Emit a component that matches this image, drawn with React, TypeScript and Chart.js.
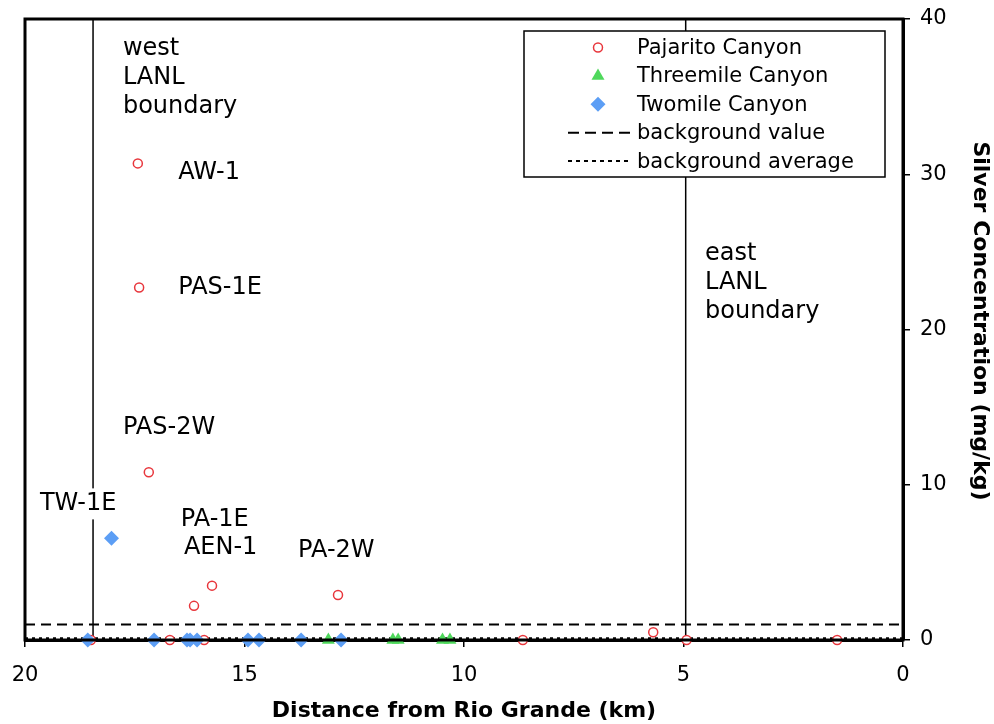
import React, { useEffect, useRef } from "react";
import { Chart, registerables } from "chart.js";

Chart.register(...registerables);

const FONT = "'DejaVu Sans', Verdana, sans-serif";

// ---- data ----
const pajaritoKm = [17.43, 17.4, 17.18, 16.15, 15.74, 12.87, 5.69, 18.5, 16.7, 15.92, 8.66, 4.93, 1.5];
const pajaritoAg = [30.7, 22.7, 10.8, 2.2, 3.5, 2.9, 0.5, 0, 0, 0, 0, 0, 0];
const threemileKm = [13.09, 11.62, 11.5, 10.49, 10.32];
const threemileAg = [0, 0, 0, 0, 0];
const twomileKm = [18.03, 18.57, 17.06, 16.31, 16.24, 16.08, 14.92, 14.67, 13.71, 12.8];
const twomileAg = [6.55, 0, 0, 0, 0, 0, 0, 0, 0, 0];
const backgroundValue = 1.0;
const backgroundAverage = 0.1;
const boundaryKm = [18.45, 4.95];
const xRange = [0, 20];
const yRange = [0, 40];
const xStep = 5;
const yStep = 10;

// labels anchored in data coordinates (left edge, text middle)
const labelText = ["AW-1", "PAS-1E", "PAS-2W", "TW-1E", "PA-1E", "AEN-1", "PA-2W"];
const labelKm = [16.51, 16.51, 17.77, 19.66, 16.45, 16.38, 13.78];
const labelAg = [30.1, 22.7, 13.7, 8.8, 7.72, 5.92, 5.72];
const boundaryLabelLines = [["west", "LANL", "boundary"], ["east", "LANL", "boundary"]];
const boundaryLabelKm = [17.77, 4.51];
const boundaryLabelAg = [38.1, 24.9];

const legendNames = ["Pajarito Canyon", "Threemile Canyon", "Twomile Canyon", "background value", "background average"];
const xTitle = "Distance from Rio Grande (km)";
const yTitle = "Silver Concentration (mg/kg)";

const RED = "#e8363c";
const GREEN = "#4fd85c";
const BLUE = "#5c9ef5";

const toXY = (xs: number[], ys: number[]) => xs.map((x, i) => ({ x, y: ys[i] }));

function drawMarker(ctx: CanvasRenderingContext2D, kind: string, x: number, y: number) {
  ctx.save();
  if (kind === "circle") {
    ctx.beginPath();
    ctx.arc(x, y, 4.5, 0, Math.PI * 2);
    ctx.fillStyle = "#fff";
    ctx.fill();
    ctx.strokeStyle = RED;
    ctx.lineWidth = 1.5;
    ctx.stroke();
  } else if (kind === "triangle") {
    const r = 7.5;
    ctx.beginPath();
    ctx.moveTo(x, y - r);
    ctx.lineTo(x + r * Math.sin(Math.PI / 3), y + r / 2);
    ctx.lineTo(x - r * Math.sin(Math.PI / 3), y + r / 2);
    ctx.closePath();
    ctx.fillStyle = GREEN;
    ctx.fill();
  } else {
    const r = 7.5;
    ctx.beginPath();
    ctx.moveTo(x, y - r);
    ctx.lineTo(x + r, y);
    ctx.lineTo(x, y + r);
    ctx.lineTo(x - r, y);
    ctx.closePath();
    ctx.fillStyle = BLUE;
    ctx.fill();
  }
  ctx.restore();
}

const overlayPlugin = {
  id: "overlay",
  afterDatasetsDraw(chart: any) {
    const { ctx, chartArea: a, scales } = chart;
    const xs = scales.x;
    const ys = scales.y;
    ctx.save();
    // frame
    ctx.strokeStyle = "#000";
    ctx.lineWidth = 3;
    ctx.strokeRect(a.left, a.top, a.right - a.left, a.bottom - a.top);

    // point labels
    ctx.font = `24px ${FONT}`;
    ctx.textBaseline = "middle";
    ctx.textAlign = "left";
    labelText.forEach((t, i) => {
      const px = xs.getPixelForValue(labelKm[i]);
      const py = ys.getPixelForValue(labelAg[i]);
      const w = ctx.measureText(t).width;
      ctx.fillStyle = "#fff";
      ctx.fillRect(px - 3, py - 15, w + 6, 31);
      ctx.fillStyle = "#000";
      ctx.fillText(t, px, py);
    });
    boundaryLabelLines.forEach((lines, i) => {
      const px = xs.getPixelForValue(boundaryLabelKm[i]);
      const py = ys.getPixelForValue(boundaryLabelAg[i]);
      ctx.fillStyle = "#000";
      lines.forEach((l, j) => ctx.fillText(l, px, py + j * 29));
    });

    // legend
    const lw = 361;
    const lh = 146;
    const lx = a.right - 379;
    const ly = a.top + 12;
    ctx.fillStyle = "#fff";
    ctx.fillRect(lx, ly, lw, lh);
    ctx.strokeStyle = "#000";
    ctx.lineWidth = 1.5;
    ctx.strokeRect(lx, ly, lw, lh);
    ctx.font = `21px ${FONT}`;
    const kinds = ["circle", "triangle", "rectRot", "dash", "dot"];
    legendNames.forEach((name, i) => {
      const ry = ly + 16.5 + i * 28.4;
      const k = kinds[i];
      if (k === "dash" || k === "dot") {
        ctx.save();
        ctx.strokeStyle = "#000";
        ctx.lineWidth = 2;
        ctx.setLineDash(k === "dash" ? [11, 6] : [4, 4]);
        ctx.beginPath();
        ctx.moveTo(lx + 44, ry);
        ctx.lineTo(lx + 108, ry);
        ctx.stroke();
        ctx.restore();
      } else {
        drawMarker(ctx, k, lx + 74, ry);
      }
      ctx.fillStyle = "#000";
      ctx.fillText(name, lx + 113, ry + 1);
    });

    // right axis title (reads top to bottom)
    ctx.save();
    ctx.font = `bold 22px ${FONT}`;
    ctx.textAlign = "center";
    ctx.textBaseline = "middle";
    ctx.fillStyle = "#000";
    ctx.translate(a.right + 77, a.top + 302);
    ctx.rotate(Math.PI / 2);
    ctx.fillText(yTitle, 0, 0);
    ctx.restore();

    ctx.restore();
  },
};

export default function App() {
  const ref = useRef<HTMLCanvasElement>(null);
  useEffect(() => {
    document.body.style.margin = "0";
    const hLine = (v: number) => [
      { x: xRange[1], y: v },
      { x: xRange[0], y: v },
    ];
    const vLine = (k: number) => [
      { x: k, y: yRange[0] },
      { x: k, y: yRange[1] },
    ];
    const zeroPad = (s: any) => {
      s.paddingLeft = 0;
      s.paddingRight = 0;
      s.paddingTop = 0;
      s.paddingBottom = 0;
    };
    const chart = new Chart(ref.current as HTMLCanvasElement, {
      type: "scatter",
      data: {
        datasets: [
          {
            label: "Twomile Canyon",
            data: toXY(twomileKm, twomileAg),
            pointStyle: "rectRot",
            pointRadius: 7.5,
            backgroundColor: BLUE,
            borderColor: BLUE,
            borderWidth: 0,
            order: 0,
            clip: false,
          } as any,
          {
            label: "Threemile Canyon",
            data: toXY(threemileKm, threemileAg),
            pointStyle: "triangle",
            pointRadius: 7.5,
            backgroundColor: GREEN,
            borderColor: GREEN,
            borderWidth: 0,
            order: 1,
            clip: false,
          },
          {
            label: "Pajarito Canyon",
            data: toXY(pajaritoKm, pajaritoAg),
            pointStyle: "circle",
            pointRadius: 4.5,
            backgroundColor: "#fff",
            borderColor: RED,
            borderWidth: 1.5,
            order: 2,
            clip: false,
          },
          {
            label: "background value",
            type: "line",
            data: hLine(backgroundValue),
            borderColor: "#000",
            borderWidth: 2,
            borderDash: [10, 6],
            pointRadius: 0,
            order: 3,
          } as any,
          {
            label: "background average",
            type: "line",
            data: hLine(backgroundAverage),
            borderColor: "#000",
            borderWidth: 2.5,
            borderDash: [3, 4],
            pointRadius: 0,
            order: 4,
          } as any,
          ...boundaryKm.map(
            (k) =>
              ({
                label: "boundary",
                type: "line",
                data: vLine(k),
                borderColor: "#000",
                borderWidth: 1.5,
                pointRadius: 0,
                order: 5,
              } as any)
          ),
        ],
      },
      options: {
        animation: false,
        responsive: false,
        events: [],
        layout: { padding: { left: 25, top: 19, right: 0, bottom: 0 } },
        plugins: { legend: { display: false }, tooltip: { enabled: false } },
        scales: {
          x: {
            type: "linear",
            position: "bottom",
            reverse: true,
            min: xRange[0],
            max: xRange[1],
            ticks: { stepSize: xStep, color: "#000", padding: 16, font: { family: FONT, size: 21 } },
            grid: { drawOnChartArea: false, drawTicks: true, tickLength: 7, color: "#000", lineWidth: 1.5 },
            border: { display: true, color: "#000", width: 3 },
            title: {
              display: true,
              text: xTitle,
              color: "#000",
              font: { family: FONT, size: 22, weight: "bold" },
              padding: { top: 0, bottom: 0 },
            },
            afterFit: (s: any) => {
              s.height = 84;
              zeroPad(s);
            },
          },
          y: {
            type: "linear",
            position: "right",
            min: yRange[0],
            max: yRange[1],
            ticks: { stepSize: yStep, color: "#000", padding: 10, font: { family: FONT, size: 21 } },
            grid: { drawOnChartArea: false, drawTicks: true, tickLength: 7, color: "#000", lineWidth: 1.5 },
            border: { display: true, color: "#000", width: 3 },
            title: { display: false },
            afterFit: (s: any) => {
              s.width = 91;
              zeroPad(s);
            },
          },
        },
      },
      plugins: [overlayPlugin],
    });
    return () => chart.destroy();
  }, []);
  return (
    <div style={{ width: 994, height: 724 }}>
      <canvas ref={ref} width={994} height={724} style={{ display: "block" }} />
    </div>
  );
}
